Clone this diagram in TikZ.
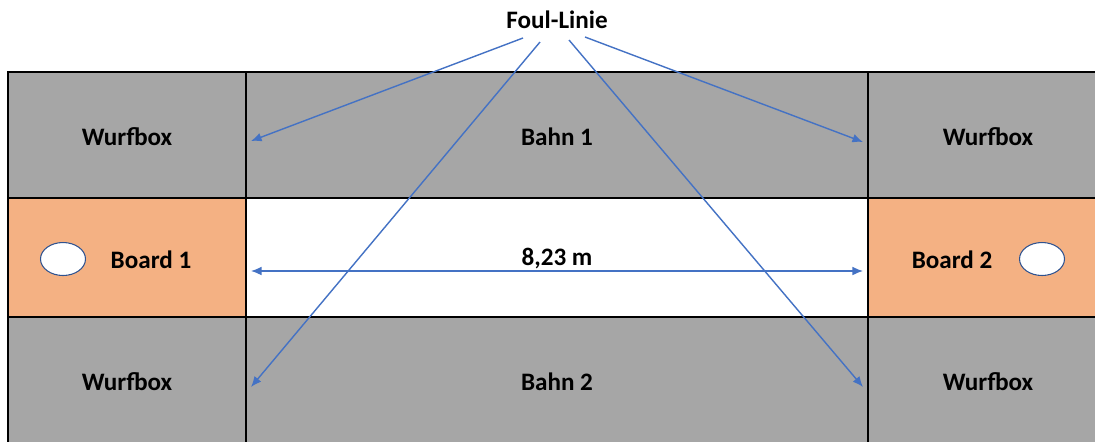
\documentclass[tikz,border=0pt]{standalone}
\usepackage{fontspec}
\setmainfont{Carlito}
\usepackage{xcolor}
\usetikzlibrary{shapes.geometric,arrows.meta}
\definecolor{boxgray}{HTML}{A6A6A6}
\definecolor{boardorange}{HTML}{F4B183}
\definecolor{foulblue}{HTML}{4472C4}
\definecolor{ballblue}{HTML}{2F528F}
\tikzset{>=latex}

\begin{document}
\begin{tikzpicture}[x=0.02cm,y=-0.02cm,font=\fontsize{14.3}{17}\selectfont\bfseries,
	cell/.style={draw=black,line width=1.5pt},
	foulline/.style={foulblue,line width=0.8pt,-{Latex[length=6pt,width=5pt]}},
	ball/.style={ellipse,draw=ballblue,fill=white,line width=0.6pt,minimum width=0.9cm,minimum height=0.66cm,inner sep=0pt}]
		\useasboundingbox (0,0) rectangle (1095,441);
		\clip (0,0) rectangle (1095,441);
		% Felder
		\filldraw[cell,fill=boxgray] (8,72) rectangle (246,198);
		\filldraw[cell,fill=boxgray] (246,72) rectangle (868,198);
		\filldraw[cell,fill=boxgray] (868,72) rectangle (1110,198);
		\filldraw[cell,fill=boardorange] (8,198) rectangle (246,317);
		\filldraw[cell,fill=white] (246,198) rectangle (868,317);
		\filldraw[cell,fill=boardorange] (868,198) rectangle (1110,317);
		\filldraw[cell,fill=boxgray] (8,317) rectangle (246,460);
		\filldraw[cell,fill=boxgray] (246,317) rectangle (868,460);
		\filldraw[cell,fill=boxgray] (868,317) rectangle (1110,460);
		% Beschriftungen
		\node (wurf1) at (127,137) {Wurfbox};
		\node (bahn1) at (557,137) {Bahn 1};
		\node (wurf2) at (988,137) {Wurfbox};
		\node (board1) at (151,260) {Board 1};
		\node (board2) at (952,260) {Board 2};
		\node (wurf3) at (127,382) {Wurfbox};
		\node (bahn2) at (557,382) {Bahn 2};
		\node (wurf4) at (988,382) {Wurfbox};
		% Loecher
		\node[ball] (ball1) at (63,259) {};
		\node[ball] (ball2) at (1042,259) {};
		% Foul-Linie
		\node (foul) at (557,20) {Foul-Linie};
		\coordinate (s1) at (523,38);
		\coordinate (s2) at (540,42);
		\coordinate (s3) at (569,40);
		\coordinate (s4) at (585,37);
		\coordinate (e1) at (251,141);
		\coordinate (e2) at (251,387);
		\coordinate (e3) at (863,387);
		\coordinate (e4) at (863,142);
		\draw[foulline] (s1) -- (e1);
		\draw[foulline] (s2) -- (e2);
		\draw[foulline] (s3) -- (e3);
		\draw[foulline] (s4) -- (e4);
		% Abstand
		\coordinate (d1) at (251,271);
		\coordinate (d2) at (863,271);
		\draw[foulline,{Latex[length=6pt,width=5pt]}-{Latex[length=6pt,width=5pt]}] (d1) -- (d2);
		\node (dist) at (557,259) {8,23 m};
\end{tikzpicture}
\end{document}
